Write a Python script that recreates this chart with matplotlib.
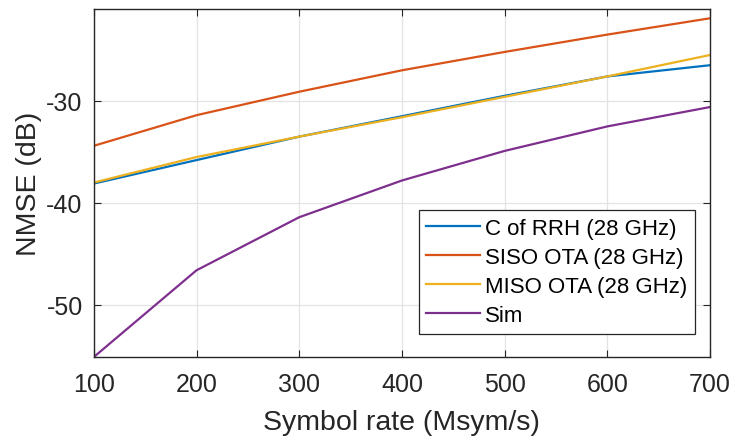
#!/usr/bin/env python3

import numpy as np
import matplotlib as mpl
import matplotlib.pyplot as plt

# Data

rate = [100, 200, 300, 400, 500, 600, 700]
c_rrh = [-38.1, -35.8, -33.5, -31.5, -29.5, -27.6, -26.5]
siso = [-34.4, -31.4, -29.1, -27.0, -25.2, -23.5, -21.9]
miso = [-38.0, -35.5, -33.5, -31.6, -29.6, -27.6, -25.5]
sim = [-55.1, -46.6, -41.4, -37.8, -34.9, -32.5, -30.6]

labels = ["C of RRH (28 GHz)", "SISO OTA (28 GHz)", "MISO OTA (28 GHz)", "Sim"]
colors = ['#0072BD', '#D95319', '#EDB120', '#7E2F8E']

# Formatting

mpl.rcParams['font.family'] = 'Liberation Sans'
mpl.rcParams['axes.unicode_minus'] = False
dark = '#262626'

fig = plt.figure(figsize = (7.33, 4.39), dpi = 100)
ax = fig.add_axes([0.128, 0.1845, 0.8406, 0.7925])

for y, lab, c in zip([c_rrh, siso, miso, sim], labels, colors):
  ax.plot(rate, y, ls = '-', lw = 1.6, color = c, label = lab)

ax.set_xlim(100, 700)
ax.set_ylim(-55.1, -21.0)
ax.set_xticks(rate)
ax.set_yticks([-50, -40, -30])

ax.grid(True, color = '#e3e3e3', lw = 0.9)
ax.set_axisbelow(True)
for s in ax.spines.values():
  s.set_color(dark)
  s.set_linewidth(1.0)

ax.tick_params(axis = 'both', labelsize = 18, colors = dark, direction = 'in',
               top = True, right = True, length = 5)
ax.tick_params(axis = 'x', pad = 11)
ax.tick_params(axis = 'y', pad = 8)

ax.set_xlabel("Symbol rate (Msym/s)", size = 20.5, color = dark, labelpad = 9)
ax.set_ylabel("NMSE (dB)", size = 20.5, color = dark, labelpad = 3)

leg = ax.legend(loc = 'lower right', bbox_to_anchor = (0.976, 0.066),
                prop = {'size' : 16}, fancybox = False, framealpha = 1,
                edgecolor = dark, handlelength = 2.4, handletextpad = 0.25,
                labelspacing = 0.36, borderpad = 0.35, borderaxespad = 0)
leg.get_frame().set_linewidth(0.9)

fig.savefig("out.png", dpi = 100)
